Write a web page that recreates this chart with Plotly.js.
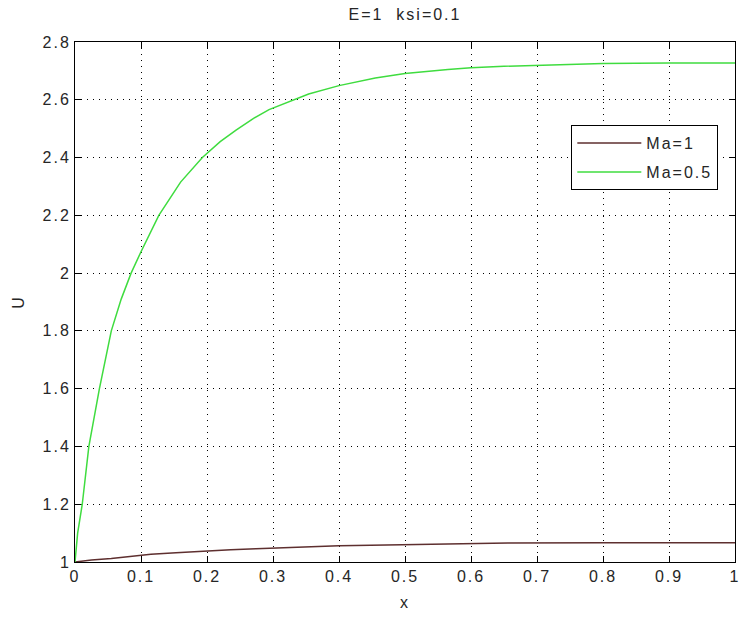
<!DOCTYPE html>
<html>
<head>
<meta charset="utf-8">
<script src="https://cdn.plot.ly/plotly-3.0.1.min.js"></script>
<style>
html, body { margin: 0; padding: 0; background: #fff; }
#chart { width: 740px; height: 619px; }
svg text { letter-spacing: 2px; }
</style>
</head>
<body>
<div id="chart"></div>
<script>
// Ma = 0.5 series
var maHalfX = [0, 0.004, 0.011, 0.021, 0.037, 0.055, 0.07, 0.085, 0.1, 0.127, 0.16, 0.193, 0.22, 0.244, 0.27, 0.294, 0.354, 0.4, 0.455, 0.5, 0.565, 0.6, 0.65, 0.7, 0.8, 0.9, 1.0];
var maHalfU = [1.0, 1.1, 1.2, 1.4, 1.6, 1.8, 1.91, 2.0, 2.074, 2.2, 2.315, 2.4, 2.455, 2.495, 2.535, 2.566, 2.62, 2.649, 2.675, 2.691, 2.705, 2.711, 2.716, 2.72, 2.726, 2.727, 2.727];
// Ma = 1 series
var maOneX = [0, 0.025, 0.055, 0.085, 0.115, 0.153, 0.198, 0.236, 0.274, 0.334, 0.4, 0.495, 0.6, 0.656, 0.8, 1.0];
var maOneU = [1.0, 1.007, 1.012, 1.02, 1.027, 1.032, 1.036, 1.042, 1.046, 1.052, 1.056, 1.06, 1.063, 1.066, 1.067, 1.067];

var seriesNames = ['Ma=1', 'Ma=0.5'];
var xTicks = [0, 0.1, 0.2, 0.3, 0.4, 0.5, 0.6, 0.7, 0.8, 0.9, 1];
var xTickText = ['0', '0.1', '0.2', '0.3', '0.4', '0.5', '0.6', '0.7', '0.8', '0.9', '1'];
var yTicks = [1, 1.2, 1.4, 1.6, 1.8, 2, 2.2, 2.4, 2.6, 2.8];
var yTickText = ['1', '1.2', '1.4', '1.6', '1.8', '2', '2.2', '2.4', '2.6', '2.8'];
var titleText = 'E=1\u00a0 ksi=0.1';
var xLabel = 'x';
var yLabel = 'U';

var font = {family: 'Liberation Sans, Arial, sans-serif', size: 16, color: '#262626'};

var traces = [
  {x: maOneX, y: maOneU, name: seriesNames[0], mode: 'lines', type: 'scatter',
   legendgroup: 'a', line: {color: '#5e2f2f', width: 1.5}},
  {x: maHalfX, y: maHalfU, name: seriesNames[1], mode: 'lines', type: 'scatter',
   legendgroup: 'b', line: {color: '#3fdc3f', width: 1.5}}
];

var axisCommon = {
  showline: true, linecolor: '#000', linewidth: 1, mirror: 'ticks',
  ticks: 'inside', ticklen: 6, tickcolor: '#000', tickwidth: 1,
  showgrid: true, gridcolor: '#000', gridwidth: 1, griddash: '1px,5px',
  zeroline: false, tickfont: font, tickmode: 'array', ticklabeloverflow: 'allow'
};

var layout = {
  width: 740, height: 619,
  margin: {l: 75, r: 5, t: 42, b: 57},
  paper_bgcolor: '#fff', plot_bgcolor: '#fff',
  font: font,
  title: {text: titleText, font: font, x: 0.5, xref: 'paper', y: 1 - 14/619, yref: 'container', yanchor: 'middle'},
  xaxis: Object.assign({}, axisCommon, {range: [0, 1], tickvals: xTicks, ticktext: xTickText,
    title: {text: xLabel, font: font, standoff: 12}}),
  yaxis: Object.assign({}, axisCommon, {range: [1, 2.8], tickvals: yTicks, ticktext: yTickText,
    title: {text: yLabel, font: font, standoff: 13}}),
  showlegend: true,
  legend: {x: 0.752, y: 0.84, xanchor: 'left', yanchor: 'top', traceorder: 'grouped',
    bgcolor: '#fff', bordercolor: '#000', borderwidth: 1, font: font,
    itemwidth: 64, tracegroupgap: 5}
};

Plotly.newPlot('chart', traces, layout, {displayModeBar: false, staticPlot: true});
</script>
</body>
</html>
